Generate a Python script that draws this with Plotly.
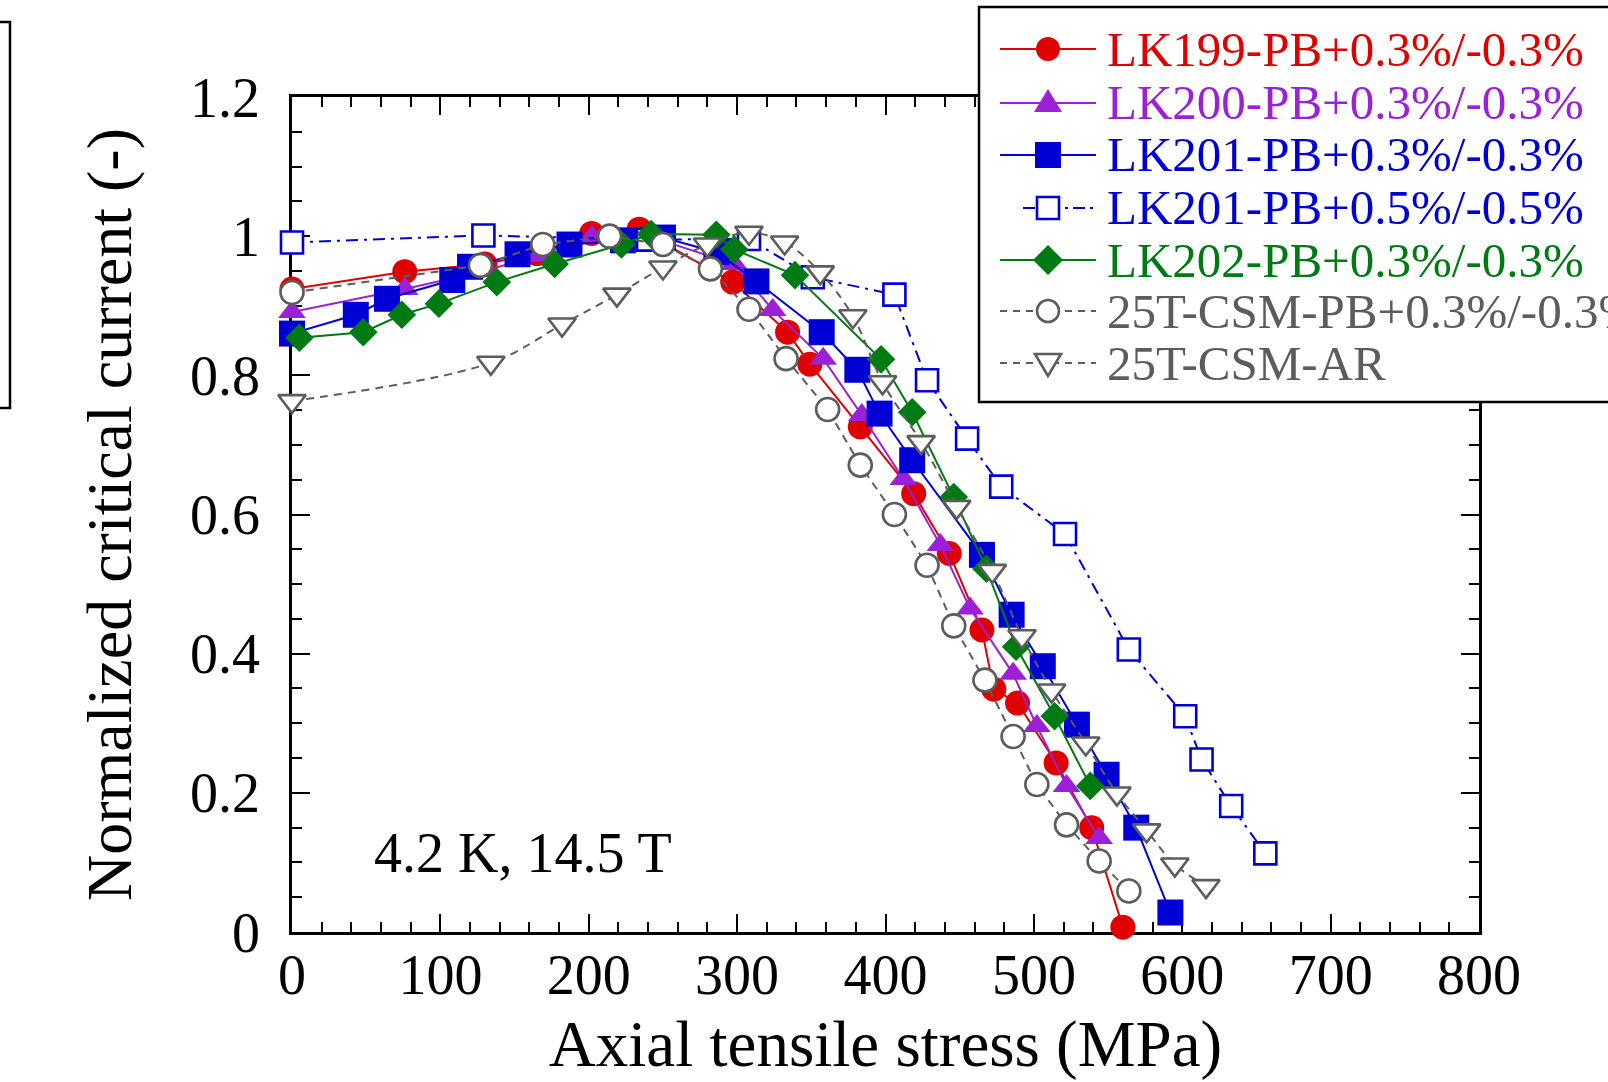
import plotly.graph_objects as go

# ---------------- data ----------------
lk199_x = [0, 76, 130, 165, 202, 234, 297, 334, 349, 383, 419, 443, 465, 473, 489, 515, 539, 560]
lk199_y = [0.924, 0.949, 0.960, 0.975, 1.004, 1.010, 0.934, 0.862, 0.816, 0.726, 0.630, 0.544, 0.434, 0.349, 0.329, 0.243, 0.150, 0.007]

lk200_x = [0, 76, 130, 165, 202, 240, 298, 324, 358, 384, 412, 437, 457, 486, 502, 522, 544]
lk200_y = [0.891, 0.924, 0.950, 0.972, 0.999, 1.000, 0.960, 0.894, 0.824, 0.743, 0.651, 0.556, 0.465, 0.371, 0.296, 0.210, 0.135]

lk201_x = [0, 43, 64, 108, 120, 152, 187, 223, 250, 286, 313, 357, 381, 396, 418, 465, 485, 506, 529, 549, 569, 592]
lk201_y = [0.860, 0.887, 0.910, 0.937, 0.956, 0.974, 0.988, 0.994, 0.998, 0.977, 0.935, 0.862, 0.808, 0.745, 0.678, 0.542, 0.456, 0.382, 0.298, 0.226, 0.150, 0.028]

lk201b_x = [0, 129, 240, 308, 351, 406, 428, 455, 478, 521, 564, 602, 613, 633, 656]
lk201b_y = [0.991, 1.001, 0.995, 0.996, 0.941, 0.916, 0.793, 0.709, 0.640, 0.572, 0.406, 0.310, 0.248, 0.181, 0.113]

lk202_x = [5, 48, 74, 99, 138, 177, 222, 242, 286, 298, 339, 397, 418, 446, 468, 488, 514, 538]
lk202_y = [0.854, 0.862, 0.887, 0.903, 0.934, 0.960, 0.988, 1.003, 1.002, 0.981, 0.944, 0.823, 0.747, 0.625, 0.522, 0.410, 0.310, 0.210]

csmpb_x = [0, 127, 169, 214, 250, 282, 308, 333, 361, 383, 406, 428, 446, 467, 486, 502, 522, 544, 564]
csmpb_y = [0.919, 0.958, 0.988, 1.000, 0.988, 0.953, 0.895, 0.824, 0.751, 0.671, 0.600, 0.527, 0.440, 0.362, 0.281, 0.212, 0.154, 0.102, 0.059]

csmar_x = [0, 134, 182, 219, 250, 280, 308, 332, 356, 378, 398, 424, 448, 472, 492, 512, 535, 556, 576, 595, 616]
csmar_y = [0.763, 0.818, 0.873, 0.916, 0.955, 0.988, 1.005, 0.991, 0.948, 0.885, 0.790, 0.704, 0.611, 0.519, 0.425, 0.347, 0.271, 0.199, 0.146, 0.097, 0.066]

series_names = [
    "LK199-PB+0.3%/-0.3%",
    "LK200-PB+0.3%/-0.3%",
    "LK201-PB+0.3%/-0.3%",
    "LK201-PB+0.5%/-0.5%",
    "LK202-PB+0.3%/-0.3%",
    "25T-CSM-PB+0.3%/-0.3%",
    "25T-CSM-AR",
]

x_title = "Axial tensile stress (MPa)"
y_title = "Normalized critical current (-)"
condition_label = "4.2 K, 14.5 T"

# ---------------- styles ----------------
RED = "#e00000"
PURPLE = "#9b20d6"
BLUE = "#0000d6"
GREEN = "#007a12"
GRAY = "#5c5c5c"
FONT = "Liberation Serif"

fig = go.Figure()

def add(x, y, name, color, symbol, size, dash="solid", open_=False, shape="linear"):
    if open_:
        marker = dict(symbol=symbol, size=size, color="white", line=dict(color=color, width=2.6))
    else:
        marker = dict(symbol=symbol, size=size, color=color, line=dict(width=0))
    fig.add_trace(go.Scatter(
        x=x, y=y, name=name, mode="lines+markers",
        line=dict(color=color, width=2, dash=dash, shape=shape),
        marker=marker, cliponaxis=False, showlegend=False,
    ))

add(lk199_x, lk199_y, series_names[0], RED, "circle", 25)
add(lk200_x, lk200_y, series_names[1], PURPLE, "triangle-up", 24)
add(lk201_x, lk201_y, series_names[2], BLUE, "square", 26)
add(lk201b_x, lk201b_y, series_names[3], BLUE, "square", 22, dash="12px,6px,3px,6px", open_=True)
add(lk202_x, lk202_y, series_names[4], GREEN, "diamond", 22)
add(csmpb_x, csmpb_y, series_names[5], GRAY, "circle", 23, dash="8px,6px", open_=True)
add(csmar_x, csmar_y, series_names[6], GRAY, "triangle-down", 24, dash="8px,6px", open_=True, shape="spline")

# ---------------- layout ----------------
W, H = 1608, 1082
ML, MR, MT, MB = 292, 129, 97, 150
PW, PH = W - ML - MR, H - MT - MB

def px(x):
    return (x - ML) / PW

def py(y):
    return (MT + PH - y) / PH

axis_common = dict(
    showline=True, linewidth=2.5, linecolor="black", mirror="allticks",
    ticks="inside", ticklen=18, tickwidth=2, tickcolor="black",
    showgrid=False, zeroline=False, layer="below traces",
    tickfont=dict(family=FONT, size=56, color="black"),
)

fig.update_layout(
    width=W, height=H,
    margin=dict(l=ML, r=MR, t=MT, b=MB, autoexpand=False),
    paper_bgcolor="white", plot_bgcolor="white",
    font=dict(family=FONT, color="black"),
    showlegend=False,
    xaxis=dict(
        range=[0, 800], tick0=0, dtick=100, ticklabelstandoff=-8,
        minor=dict(ticks="inside", ticklen=10, tickwidth=2, tickcolor="black", dtick=20),
        title=dict(text=x_title, font=dict(family=FONT, size=65), standoff=16),
        **axis_common,
    ),
    yaxis=dict(
        range=[0, 1.2], tick0=0, dtick=0.2, ticklabelstandoff=18,
        minor=dict(ticks="inside", ticklen=10, tickwidth=2, tickcolor="black", dtick=0.05),
        title=dict(text=y_title, font=dict(family=FONT, size=64), standoff=38),
        **axis_common,
    ),
)

fig.add_annotation(
    x=54, y=0.114, xref="x", yref="y", text=condition_label, showarrow=False,
    xanchor="left", yanchor="middle", font=dict(family=FONT, size=56, color="black"),
)

# ---------------- hand-built legend (box at the top right, clipped by the figure edge) ----------------
shapes = []
# partial box at the left edge of the figure
shapes.append(dict(type="rect", xref="paper", yref="paper", x0=px(-60), x1=px(10), y0=py(408), y1=py(22),
                   line=dict(color="black", width=2.5), fillcolor="rgba(0,0,0,0)", layer="above"))
# legend box
shapes.append(dict(type="rect", xref="paper", yref="paper", x0=px(979), x1=px(1680), y0=py(402), y1=py(7),
                   line=dict(color="black", width=2.5), fillcolor="white", layer="above"))

legend_rows = [
    # (name, color, glyph, filled, dash, line start)
    (series_names[0], RED, "circle", True, "solid", 1000),
    (series_names[1], PURPLE, "tri_up", True, "solid", 1000),
    (series_names[2], BLUE, "square", True, "solid", 1000),
    (series_names[3], BLUE, "square", False, "12px,5px,3px,5px", 1023),
    (series_names[4], GREEN, "diamond", True, "solid", 1000),
    (series_names[5], GRAY, "circle", False, "7px,6px", 1000),
    (series_names[6], GRAY, "tri_down", False, "7px,6px", 1000),
]
row_y = [49, 103, 155, 208, 260, 311, 363]
MX = 1048

glyph_shapes = []
for (name, color, glyph, filled, dash, x_start), yc in zip(legend_rows, row_y):
    shapes.append(dict(type="line", xref="paper", yref="paper", x0=px(x_start), x1=px(1096),
                       y0=py(yc), y1=py(yc), line=dict(color=color, width=2, dash=dash), layer="above"))
    fill = color if filled else "white"
    lw = 0 if filled else 2.6
    base = dict(xref="paper", yref="paper", xsizemode="pixel", ysizemode="pixel",
                xanchor=px(MX), yanchor=py(yc), fillcolor=fill,
                line=dict(color=color, width=lw), layer="above")
    if glyph == "circle":
        r = 12 if filled else 11
        glyph_shapes.append(dict(type="circle", x0=-r, x1=r, y0=-r, y1=r, **base))
    elif glyph == "square":
        r = 13 if filled else 11
        glyph_shapes.append(dict(type="rect", x0=-r, x1=r, y0=-r, y1=r, **base))
    elif glyph == "tri_up":
        glyph_shapes.append(dict(type="path", path="M-14,-9 L14,-9 L0,14 Z", **base))
    elif glyph == "tri_down":
        glyph_shapes.append(dict(type="path", path="M-13,9 L13,9 L0,-13 Z", **base))
    elif glyph == "diamond":
        glyph_shapes.append(dict(type="path", path="M-15,0 L0,15 L15,0 L0,-15 Z", **base))
    fig.add_annotation(x=px(1105), y=py(yc), xref="paper", yref="paper", text=name, showarrow=False,
                       xanchor="left", yanchor="middle", font=dict(family=FONT, size=49, color=color))

fig.update_layout(shapes=shapes + glyph_shapes)

fig.write_html("out.html")
